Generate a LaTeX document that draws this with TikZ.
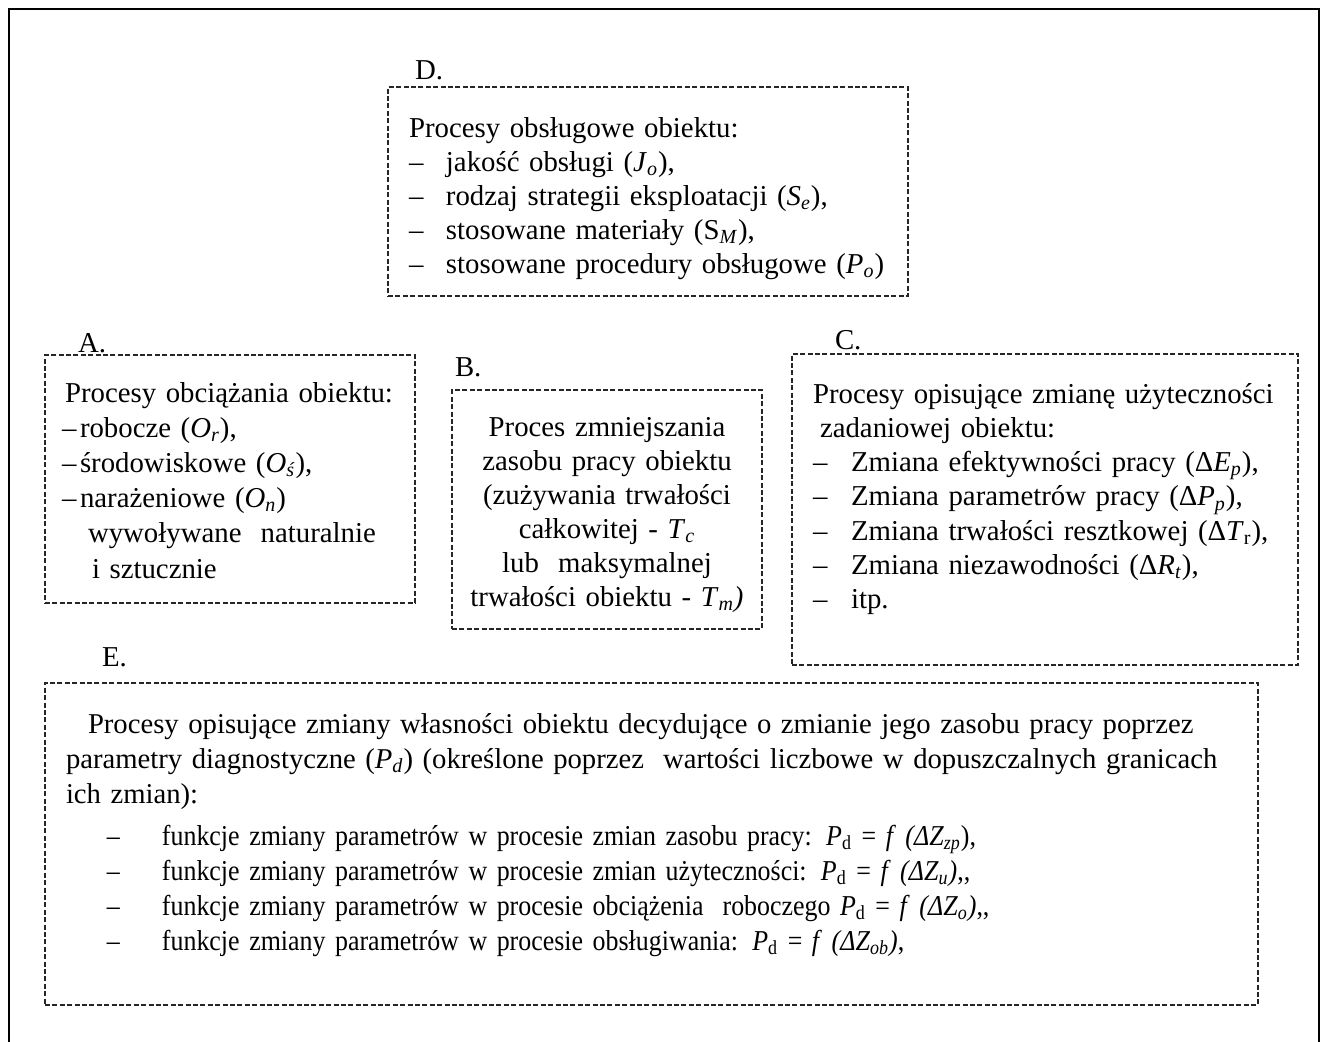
\documentclass[tikz,border=0pt]{standalone}
\usepackage{fontspec}
\setmainfont{Liberation Serif}
\newfontfamily\efont[FakeStretch=0.9]{Liberation Serif}
\usetikzlibrary{fit}
\newcommand{\sbi}[1]{\textsubscript{\textit{#1}}}
\newcommand{\sbu}[1]{\textsubscript{#1}}
\newcommand{\dI}{\makebox[18.5pt][l]{–}}
\newcommand{\dII}{\makebox[19pt][l]{–}}
\newcommand{\dA}{\makebox[9pt][l]{–}}
\newcommand{\dE}{\hspace*{20.5pt}\makebox[27.5pt][l]{–}}
\begin{document}
\begin{tikzpicture}[x=0.5pt,y=-0.5pt,
  frame/.style={draw=black, line width=1.1pt},
  dbox/.style={draw=black!85, line width=0.8pt, dash pattern=on 2.5pt off 1.2pt, inner sep=0pt, outer sep=0pt},
  txt/.style={inner sep=0pt, outer sep=0pt, anchor=north west, align=left},
  lbl/.style={inner sep=0pt, outer sep=0pt, anchor=base west, font=\fontsize{14.4}{17}\selectfont}]
\useasboundingbox (0,0) rectangle (1327,1041);
% outer frame
\coordinate (f1) at (9,1050);
\coordinate (f2) at (9,9);
\coordinate (f3) at (1319,9);
\coordinate (f4) at (1319,1050);
\draw[frame] (f1) -- (f2) -- (f3) -- (f4);

% boxes
\node[dbox, fit={(388,87) (908,296)}] (boxD) {};
\node[dbox, fit={(45,355) (415,603)}] (boxA) {};
\node[dbox, fit={(452,390) (762,629)}] (boxB) {};
\node[dbox, fit={(792,354) (1298,665)}] (boxC) {};
\node[dbox, fit={(45,683) (1258,1005)}] (boxE) {};

% labels
\node[lbl] (lD) at (415,79) {D.};
\node[lbl] (lA) at (78,352) {A.};
\node[lbl] (lB) at (455,376) {B.};
\node[lbl] (lC) at (835,349) {C.};
\node[lbl] (lE) at (102,666) {E.};

% D text
\node[txt, text width=260pt, font=\fontsize{14.4}{17}\selectfont] (tD) at (409,{137-23.8}) {\strut Procesy obsługowe obiektu:\\
\dI jakość obsługi (\textit{J}\sbi{o}),\\
\dI rodzaj strategii eksploatacji (\textit{S}\sbi{e}),\\
\dI stosowane materiały (S\sbi{M}),\\
\dI stosowane procedury obsługowe (\textit{P}\sbi{o})};

% A text
\node[txt, text width=175pt, font=\fontsize{14.4}{17.6}\selectfont] (tA) at (62,{402-24.6}) {\strut\hspace*{1.5pt}Procesy obciążania obiektu:\\
\dA robocze (\textit{O}\sbi{r}),\\
\dA środowiskowe (\textit{O}\sbi{ś}),\\
\dA narażeniowe (\textit{O}\sbi{n})\\
\hspace*{13pt}wywoływane\ \ naturalnie\\
\hspace*{15pt}i sztucznie};

% B text
\node[txt, anchor=north, text width=155pt, align=center, font=\fontsize{14.4}{17}\selectfont] (tB) at (607,{436-23.8}) {\strut Proces zmniejszania\\
zasobu pracy obiektu\\
(zużywania trwałości\\
całkowitej - \textit{T}\sbi{c}\\
lub\ \ maksymalnej\\
trwałości obiektu - \textit{T}\sbi{m}\textit{)}};

% C text
\node[txt, text width=250pt, font=\fontsize{14.4}{17.15}\selectfont] (tC) at (813,{403-24}) {\strut Procesy opisujące zmianę użyteczności\\
\hspace*{3.5pt}zadaniowej obiektu:\\
\dII Zmiana efektywności pracy (Δ\textit{E}\sbi{p}),\\
\dII Zmiana parametrów pracy (Δ\textit{P}\sbi{p}),\\
\dII Zmiana trwałości resztkowej (Δ\textit{T}\sbu{r}),\\
\dII Zmiana niezawodności (Δ\textit{R}\sbi{t}),\\
\dII itp.};

% E text
\node[txt, text width=610pt, font=\fontsize{14.34}{17.5}\selectfont] (tE) at (66,{733-24.5}) {\strut\hspace*{11pt}Procesy opisujące zmiany własności obiektu decydujące o zmianie jego zasobu pracy poprzez\\
parametry diagnostyczne (\textit{P}\sbi{d}) (określone poprzez\ \ wartości liczbowe w dopuszczalnych granicach\\
ich zmian):\\[3.5pt]
\efont\fontsize{14.4}{17.5}\selectfont
\dE funkcje zmiany parametrów w procesie zmian zasobu pracy: \textit{P}\sbu{d} = \textit{f} \textit{(ΔZ}\sbi{zp}),\\
\dE funkcje zmiany parametrów w procesie zmian użyteczności: \textit{P}\sbu{d} = \textit{f} \textit{(ΔZ}\sbi{u}\textit{)},,\\
\dE funkcje zmiany parametrów w procesie obciążenia\ \ roboczego \textit{P}\sbu{d} = \textit{f} \textit{(ΔZ}\sbi{o}\textit{)},,\\
\dE funkcje zmiany parametrów w procesie obsługiwania: \textit{P}\sbu{d} = \textit{f} \textit{(ΔZ}\sbi{ob}\textit{)},};
\end{tikzpicture}
\end{document}
